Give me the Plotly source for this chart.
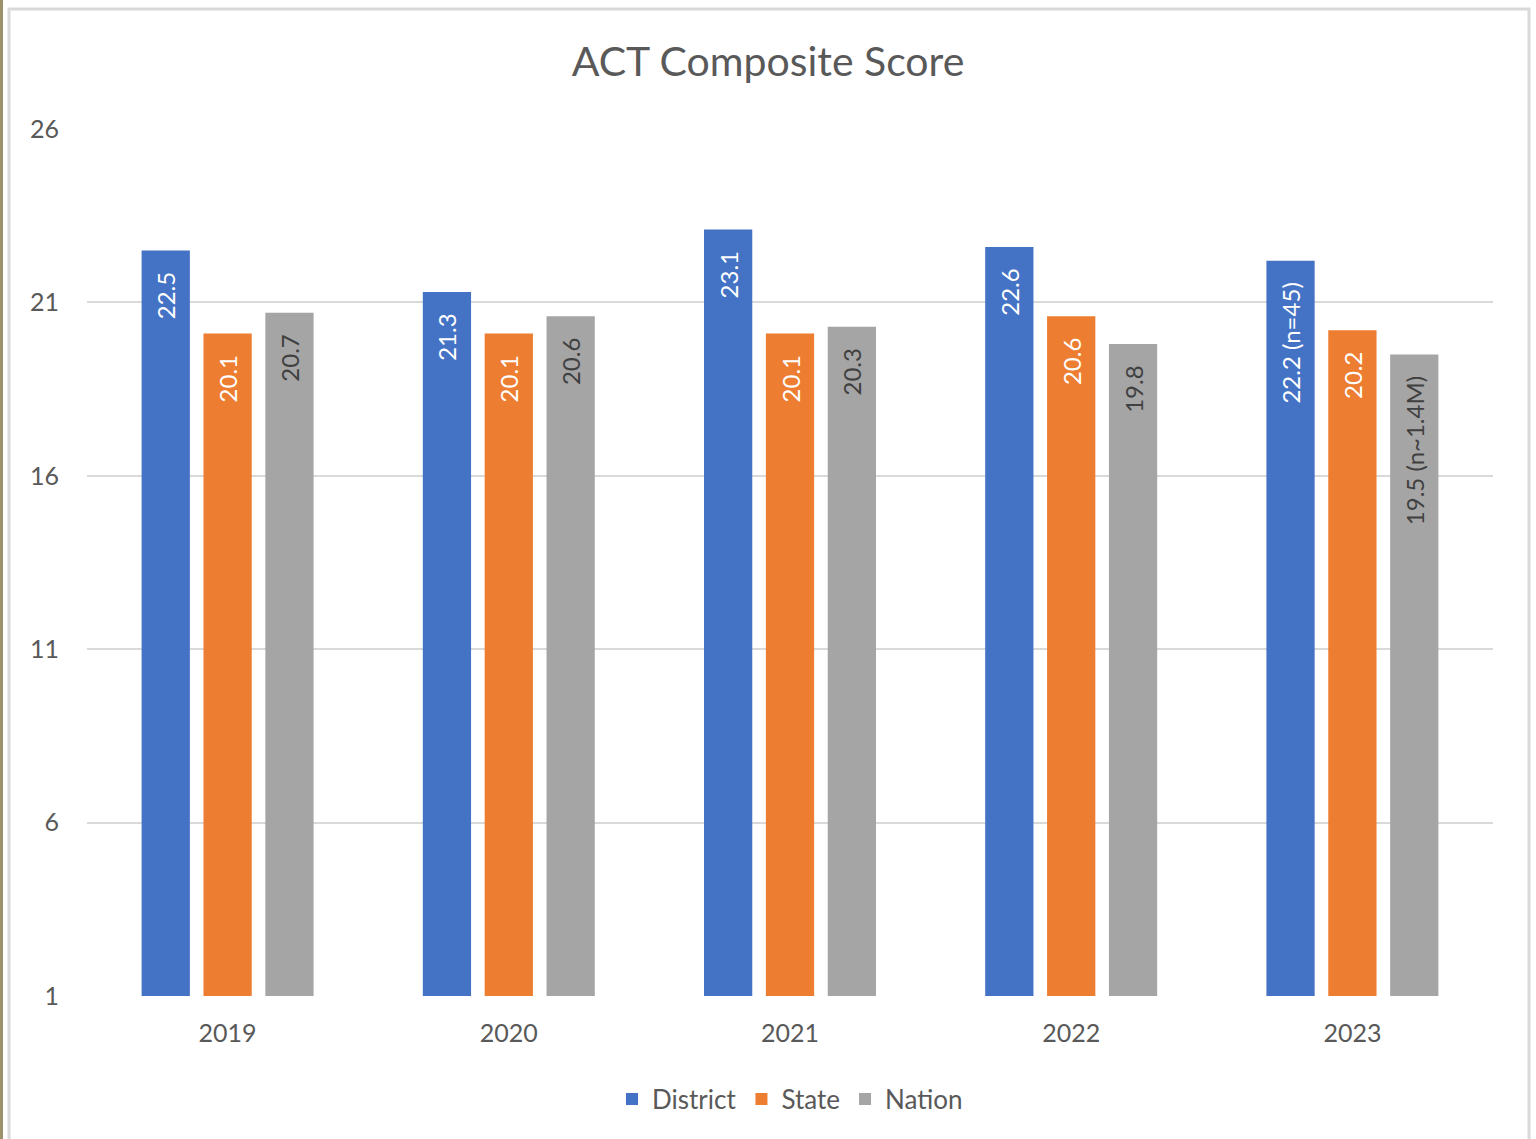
import plotly.graph_objects as go

years = ["2019", "2020", "2021", "2022", "2023"]
district = [22.5, 21.3, 23.1, 22.6, 22.2]
state = [20.1, 20.1, 20.1, 20.6, 20.2]
nation = [20.7, 20.6, 20.3, 19.8, 19.5]
district_labels = ["22.5", "21.3", "23.1", "22.6", "22.2 (n=45)"]
state_labels = ["20.1", "20.1", "20.1", "20.6", "20.2"]
nation_labels = ["20.7", "20.6", "20.3", "19.8", "19.5 (n~1.4M)"]
y_ticks = [1, 6, 11, 16, 21, 26]

FONT = "Lato"
W, H = 1536, 1139
ML, MR, MT, MB = 87, 43, 129, 143
PW, PH = W - ML - MR, H - MT - MB

def px_x(x):
    return (x - ML) / PW

def px_y(y):
    return (H - MB - y) / PH

pad = "\u00a0\u00a0\u00a0"

fig = go.Figure()
series = [
    ("District", district, district_labels, "#4472C4", "white"),
    ("State", state, state_labels, "#ED7D31", "white"),
    ("Nation", nation, nation_labels, "#A5A5A5", "#404040"),
]
for name, vals, labels, color, tcolor in series:
    fig.add_trace(go.Bar(
        name=name, x=years, y=vals,
        text=[l + pad for l in labels],
        textposition="inside", insidetextanchor="end", textangle=-90,
        textfont=dict(family=FONT, size=24, color=tcolor),
        marker=dict(color=color, line=dict(width=0)),
        cliponaxis=False,
    ))

fig.update_layout(
    width=W, height=H,
    margin=dict(l=ML, r=MR, t=MT, b=MB),
    paper_bgcolor="white", plot_bgcolor="white",
    barmode="group", bargap=0.34, bargroupgap=0.22,
    title=dict(text="ACT Composite Score", x=0.5, xanchor="center",
               y=1 - 62 / H, yanchor="middle",
               font=dict(family=FONT, size=41, color="#595959")),
    font=dict(family=FONT, color="#595959"),
    legend=dict(orientation="h", x=0.5, xanchor="center", y=px_y(1099), yanchor="middle",
                font=dict(family=FONT, size=26, color="#595959"),
                itemwidth=30, traceorder="normal"),
    uniformtext=dict(mode=False),
)
fig.update_xaxes(showgrid=False, showline=False, ticks="",
                 tickfont=dict(family=FONT, size=25, color="#595959"),
                 ticklabelstandoff=20)
fig.update_yaxes(range=[1, 26], tickvals=y_ticks, showgrid=True,
                 gridcolor="#D9D9D9", gridwidth=2, zeroline=False, showline=False,
                 tickfont=dict(family=FONT, size=25, color="#595959"),
                 ticks="", ticklabelstandoff=27)

# chart-area frame and left accent line
fig.add_shape(type="rect", xref="paper", yref="paper",
              x0=px_x(9), x1=px_x(1529), y0=px_y(1145), y1=px_y(9),
              line=dict(color="#D9D9D9", width=3), fillcolor="rgba(0,0,0,0)", layer="below")
fig.add_shape(type="line", xref="paper", yref="paper",
              x0=px_x(1.5), x1=px_x(1.5), y0=px_y(1139), y1=px_y(0),
              line=dict(color="#9C9168", width=3))

fig.write_html("out.html", config={"displayModeBar": False},
               post_script="document.body.style.margin='0';")
